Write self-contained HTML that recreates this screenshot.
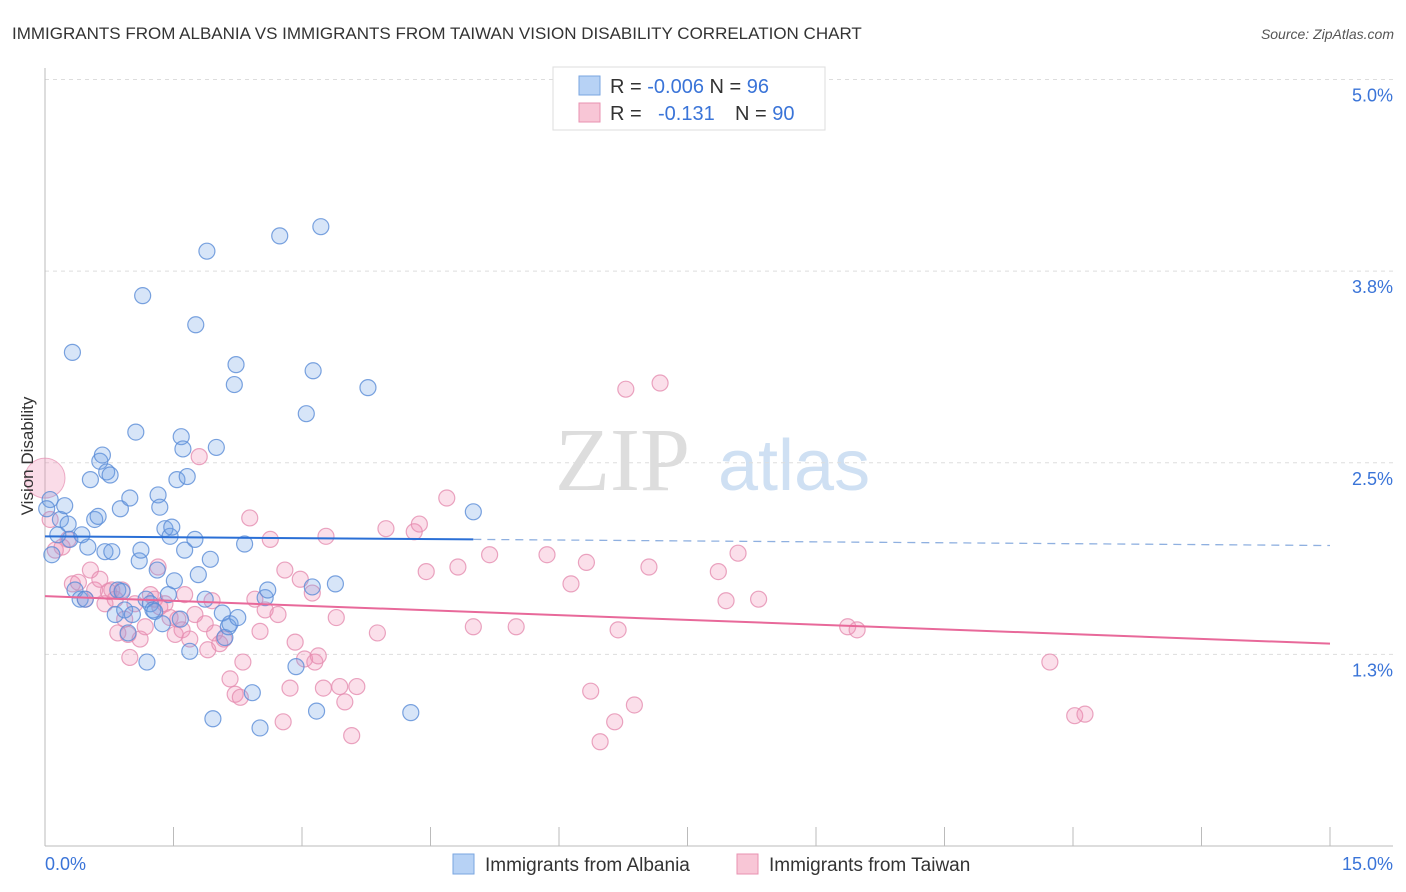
<!DOCTYPE html>
<html><head><meta charset="utf-8"><style>
body{margin:0;background:#fff;font-family:"Liberation Sans",sans-serif;}
svg{display:block}
</style></head><body>
<svg id="chart" width="1406" height="892" viewBox="0 0 1406 892" xmlns="http://www.w3.org/2000/svg" font-family="Liberation Sans, sans-serif">
<text x="12" y="39" font-size="17" fill="#333">IMMIGRANTS FROM ALBANIA VS IMMIGRANTS FROM TAIWAN VISION DISABILITY CORRELATION CHART</text>
<text x="1394" y="39" font-size="14" font-style="italic" fill="#555" text-anchor="end">Source: ZipAtlas.com</text>
<g>
<text x="555" y="490" font-size="90" font-family="Liberation Serif, serif" fill="#ddd">ZIP</text>
<text x="718" y="490" font-size="72" fill="#cfe0f3">atlas</text>
</g>
<g id="grid"></g>
<g id="axes"></g>
<g id="pts"></g>
<g id="trend"></g>
<text transform="translate(33,456) rotate(-90)" font-size="17" fill="#333" text-anchor="middle">Vision Disability</text>
<g>
<rect x="553" y="67" width="272" height="63" fill="#fff" stroke="#ddd"/>
<rect x="579" y="76" width="21" height="19" fill="#b7d2f5" stroke="#7aa6e0"/>
<rect x="579" y="103" width="21" height="19" fill="#f8c6d6" stroke="#e892b0"/>
<text x="610" y="93" font-size="20" fill="#333">R = <tspan fill="#3a74d8">-0.006</tspan>   N = <tspan fill="#3a74d8">96</tspan></text>
<text x="610" y="120" font-size="20" fill="#333">R = <tspan fill="#3a74d8" x="658">-0.131</tspan><tspan x="735">N = </tspan><tspan fill="#3a74d8">90</tspan></text>
</g>
<g>
<rect x="453" y="854" width="21" height="20" fill="#b7d2f5" stroke="#7aa6e0"/>
<text x="485" y="871" font-size="19" fill="#333">Immigrants from Albania</text>
<rect x="737" y="854" width="21" height="20" fill="#f8c6d6" stroke="#e892b0"/>
<text x="769" y="871" font-size="19" fill="#333">Immigrants from Taiwan</text>
</g>
</svg>
<script>
const blueX=[0.06,0.08,0.02,0.18,0.23,0.29,0.27,0.15,0.32,0.35,0.41,0.47,0.43,0.50,0.53,0.58,0.62,0.64,0.67,0.70,0.72,0.76,0.78,0.82,0.85,0.88,0.90,0.93,0.97,0.99,1.02,1.06,1.10,1.12,1.14,1.18,1.19,1.23,1.26,1.28,1.31,1.32,1.34,1.37,1.40,1.44,1.46,1.48,1.51,1.54,1.58,1.59,1.61,1.63,1.66,1.69,1.75,1.76,1.79,1.87,1.89,1.93,1.96,2.00,2.07,2.10,2.14,2.16,2.21,2.23,2.25,2.33,2.42,2.51,2.57,2.60,2.74,2.93,3.05,3.12,3.13,3.17,3.22,3.39,3.77,4.27,5.00];
const blueY=[2.26,1.90,2.20,2.13,2.22,2.00,2.10,2.03,3.22,1.67,1.61,1.61,2.03,1.95,2.39,2.13,2.15,2.51,2.55,1.92,2.44,2.42,1.92,1.51,1.67,2.20,1.66,1.54,1.39,2.27,1.51,2.70,1.86,1.93,3.59,1.61,1.20,1.58,1.54,1.53,1.80,2.29,2.21,1.45,2.07,1.64,2.02,2.08,1.73,2.39,1.48,2.67,2.59,1.93,2.41,1.27,2.00,3.40,1.77,1.61,3.88,1.87,0.83,2.60,1.52,1.36,1.43,1.45,3.01,3.14,1.49,1.97,1.00,0.77,1.62,1.67,3.98,1.17,2.82,1.69,3.10,0.88,4.04,1.71,2.99,0.87,2.18];
const pinkX=[0.06,0.12,0.20,0.27,0.32,0.39,0.47,0.53,0.58,0.64,0.70,0.74,0.78,0.82,0.85,0.90,0.93,0.97,0.99,1.05,1.11,1.17,1.23,1.28,1.32,1.34,1.40,1.46,1.52,1.55,1.60,1.63,1.69,1.75,1.80,1.87,1.90,1.95,1.98,2.04,2.09,2.16,2.22,2.28,2.31,2.39,2.45,2.51,2.57,2.63,2.72,2.78,2.80,2.86,2.92,2.98,3.03,3.12,3.15,3.19,3.25,3.28,3.40,3.44,3.50,3.58,3.64,3.88,3.98,4.31,4.37,4.45,4.69,4.82,5.00,5.19,5.50,5.86,6.14,6.32,6.37,6.48,6.65,6.69,6.78,6.88,7.05,7.18,7.86,7.95,8.09,8.33,9.37,9.48,11.73,12.02,12.14];
const pinkY=[2.13,1.93,1.95,2.00,1.71,1.72,1.61,1.80,1.67,1.74,1.58,1.66,1.67,1.61,1.39,1.67,1.48,1.38,1.23,1.58,1.35,1.43,1.64,1.61,1.82,1.56,1.58,1.49,1.38,1.48,1.41,1.64,1.35,1.51,2.54,1.45,1.28,1.60,1.39,1.32,1.35,1.09,0.99,0.97,1.20,2.14,1.61,1.40,1.54,2.00,1.51,0.81,1.80,1.03,1.33,1.74,1.22,1.65,1.20,1.24,1.03,2.02,1.49,1.04,0.94,0.72,1.04,1.39,2.07,2.05,2.10,1.79,2.27,1.82,1.43,1.90,1.43,1.90,1.71,1.85,1.01,0.68,0.81,1.41,2.98,0.92,1.82,3.02,1.79,1.60,1.91,1.61,1.43,1.41,1.20,0.85,0.86];
const yTicks=[1.25,2.5,3.75,5.0];
const yTickLabels=["1.3%","2.5%","3.8%","5.0%"];
const blueTrend=[2.02,1.96];
const pinkTrend=[1.63,1.32];
const NS="http://www.w3.org/2000/svg";
const X0=45,X1=1330,YB=846;
function sx(v){return X0+v*(X1-X0)/15;}
function sy(v){return YB-v*153.3;}
function mk(t,a,p){const e=document.createElementNS(NS,t);for(const k in a)e.setAttribute(k,a[k]);p.appendChild(e);return e;}
const grid=document.getElementById('grid'),axes=document.getElementById('axes'),pts=document.getElementById('pts'),trend=document.getElementById('trend');
yTicks.forEach((t,i)=>{
 const l=mk('line',{x1:X0,x2:1393,y1:sy(t),y2:sy(t),stroke:'#ddd','stroke-dasharray':'4,4'},grid);
 
 
 const tx=mk('text',{x:1393,y:sy(t)+22,'font-size':18,fill:'#3a74d8','text-anchor':'end'},axes);
 tx.textContent=yTickLabels[i];
 
 
});
mk('line',{x1:X0,x2:X0,y1:68,y2:YB,stroke:'#bbb'},axes);
mk('line',{x1:X0,x2:1393,y1:YB,y2:YB,stroke:'#bbb'},axes);
for(let i=1;i<=10;i++){const t=mk('line',{x1:sx(i*1.5),x2:sx(i*1.5),y1:827,y2:YB,stroke:'#bbb'},axes);
 
 }
const xl=mk('text',{x:45,y:870,'font-size':18,fill:'#3a74d8'},axes);xl.textContent='0.0%';


const xr=mk('text',{x:1393,y:870,'font-size':18,fill:'#3a74d8','text-anchor':'end'},axes);xr.textContent='15.0%';


const big=mk('circle',{cx:sx(0),cy:sy(2.40),r:20,fill:'rgba(240,140,180,0.3)',stroke:'rgba(229,141,176,0.7)'},pts);


pinkX.forEach((x,i)=>{const c=mk('circle',{cx:sx(x),cy:sy(pinkY[i]),r:8,fill:'rgba(240,140,180,0.28)',stroke:'rgba(229,141,176,0.8)','stroke-width':1.2},pts);
 
 });
blueX.forEach((x,i)=>{const c=mk('circle',{cx:sx(x),cy:sy(blueY[i]),r:8,fill:'rgba(110,160,230,0.28)',stroke:'rgba(90,140,215,0.8)','stroke-width':1.2},pts);
 
 });
const bAt=v=>blueTrend[0]+(blueTrend[1]-blueTrend[0])*v/15;
const b1=mk('line',{x1:sx(0),y1:sy(bAt(0)),x2:sx(5),y2:sy(bAt(5)),stroke:'#2a6fd6','stroke-width':2},trend);


const b2=mk('line',{x1:sx(5),y1:sy(bAt(5)),x2:sx(15),y2:sy(bAt(15)),stroke:'#8fb0e0','stroke-width':1.3,'stroke-dasharray':'8,6'},trend);


const p1=mk('line',{x1:sx(0),y1:sy(pinkTrend[0]),x2:sx(15),y2:sy(pinkTrend[1]),stroke:'#e8699a','stroke-width':2},trend);


</script>
</body></html>
